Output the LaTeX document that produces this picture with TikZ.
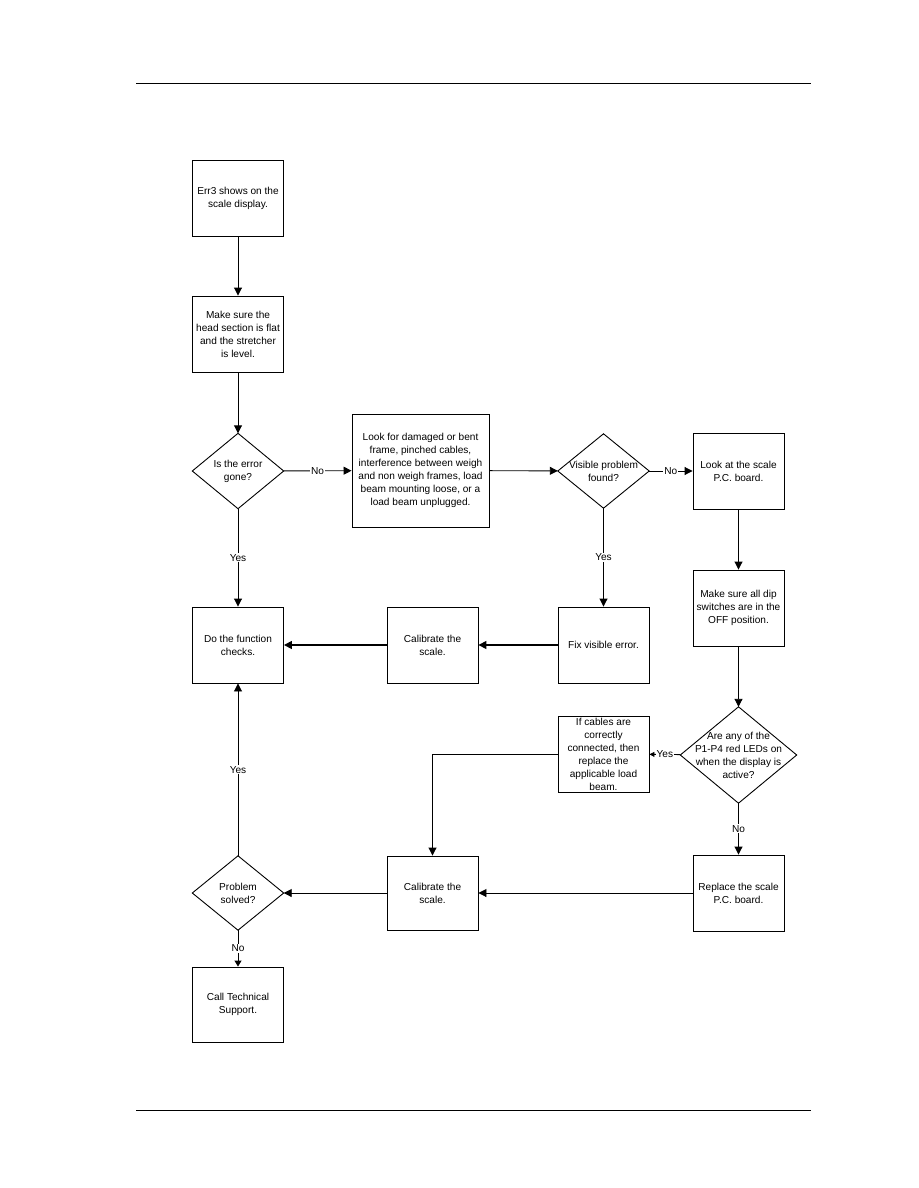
\documentclass[tikz,border=0pt]{standalone}
\usepackage{fontspec}
\setmainfont{Liberation Sans}
\usetikzlibrary{arrows.meta}
\begin{document}
\begin{tikzpicture}[x=1pt,y=-1pt,
  every node/.style={font=\fontsize{10.1}{13}\selectfont, align=center, inner sep=1pt},
  box/.style={draw, line width=0.9pt, minimum width=91pt, minimum height=76pt},
  dia/.style={minimum width=91pt, minimum height=75pt},
  conn/.style={line width=0.9pt, -{Triangle[length=8pt,width=8pt]}},
  thick conn/.style={line width=1.6pt, -{Triangle[length=8pt,width=8pt]}},
  lab/.style={fill=white, inner sep=1pt, midway}]
\useasboundingbox (0,0) rectangle (918,1188);
\draw[line width=1pt] (136,84) -- (811,84);
\draw[line width=1pt] (136,1110) -- (811,1110);

\node[box] (a) at (238,198) {Err3 shows on the\\scale display.};
\node[box] (b) at (238,334) {Make sure the\\head section is flat\\and the stretcher\\is level.};
\node[dia] (d1) at (238,471) {Is the error\\gone?};
\node[box, minimum width=137pt, minimum height=113pt] (c) at (420.5,470.5) {Look for damaged or bent\\frame, pinched cables,\\interference between weigh\\and non weigh frames, load\\beam mounting loose, or a\\load beam unplugged.};
\node[dia, minimum height=74pt] (d2) at (603.5,471) {Visible problem\\found?};
\node[box] (e) at (738.5,471) {Look at the scale\\P.C. board.};
\node[box] (f) at (738.5,608) {Make sure all dip\\switches are in the\\OFF position.};
\node[dia, minimum width=116pt, minimum height=96pt] (d3) at (738.5,755) {Are any of the\\P1-P4 red LEDs on\\when the display is\\active?};
\node[box] (g) at (603.5,754) {If cables are\\correctly\\connected, then\\replace the\\applicable load\\beam.};
\node[box] (h) at (738.5,893) {Replace the scale\\P.C. board.};
\node[box, minimum height=74pt] (i) at (432.5,893) {Calibrate the\\scale.};
\node[box] (j) at (603.5,645) {Fix visible error.};
\node[box] (k) at (432.5,645) {Calibrate the\\scale.};
\node[box] (l) at (238,645) {Do the function\\checks.};
\node[dia, minimum height=74pt] (d4) at (238,893) {Problem\\solved?};
\node[box, minimum height=75pt] (m) at (238,1004.5) {Call Technical\\Support.};

\foreach \n in {d1,d2,d3,d4}
  \draw[line width=0.9pt] (\n.north) -- (\n.east) -- (\n.south) -- (\n.west) -- cycle;

\draw[conn] (a) -- (b);
\draw[conn] (b) -- (d1);
\draw[conn] (d1) -- node[lab] {No} (c);
\draw[conn] (d1) -- node[lab] {Yes} (l);
\draw[conn] (c) -- (d2);
\draw[conn] (d2) -- node[lab] {No} (e);
\draw[conn] (d2) -- node[lab] {Yes} (j);
\draw[conn] (e) -- (f);
\draw[conn] (f) -- (d3);
\draw[line width=0.9pt, -{Triangle[length=5pt,width=5pt]}] (d3) -- node[lab] {Yes} (g);
\draw[conn] (d3) -- node[lab] {No} (h);
\draw[conn] (g.west) -| (i.north);
\draw[conn] (h) -- (i);
\draw[conn] (i) -- (d4);
\draw[conn] (d4) -- node[lab] {Yes} (l);
\draw[line width=0.9pt, -{Triangle[length=6pt,width=7pt]}] (d4) -- node[lab] {No} (m);
\draw[thick conn] (j) -- (k);
\draw[thick conn] (k) -- (l);
\end{tikzpicture}
\end{document}
